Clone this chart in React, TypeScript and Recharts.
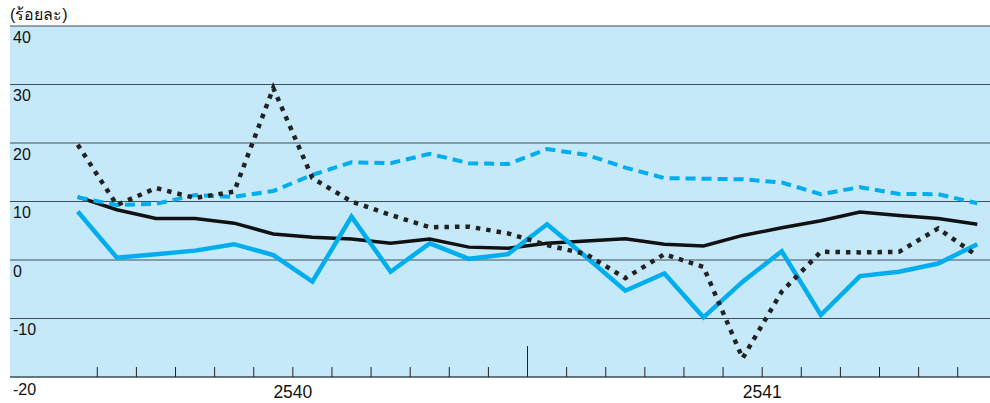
import { LineChart, Line, XAxis, YAxis, CartesianGrid } from 'recharts';

// 24 months: 2540 (12) + 2541 (12)
const months = Array.from({ length: 24 }, (_, i) => i);

const blackSolid = [10.8, 8.6, 7.1, 7.1, 6.3, 4.45, 3.9, 3.6, 2.85, 3.6, 2.2, 2.0, 2.85, 3.25, 3.65, 2.7, 2.4, 4.2, 5.5, 6.7, 8.2, 7.6, 7.1, 6.1];
const cyanSolid = [8.3, 0.4, 1.0, 1.6, 2.7, 0.85, -3.7, 7.4, -2.0, 2.85, 0.2, 1.0, 6.1, 0.5, -5.25, -2.3, -9.8, -3.7, 1.5, -9.4, -2.75, -2.0, -0.6, 2.7];
const cyanDashed = [10.7, 9.4, 9.6, 11.1, 10.8, 11.8, 14.55, 16.7, 16.55, 18.15, 16.55, 16.4, 18.95, 18.0, 15.8, 14.0, 13.9, 13.8, 13.25, 11.25, 12.45, 11.3, 11.25, 9.7];
const blackDotted = [19.7, 9.4, 12.3, 10.6, 11.7, 29.4, 14.0, 10.0, 7.7, 5.6, 5.7, 4.55, 2.55, 1.0, -3.1, 1.0, -1.2, -16.8, -5.4, 1.4, 1.3, 1.4, 5.4, 0.7];

const yTicks = [40, 30, 20, 10, 0, -10, -20];
const xTicks = Array.from({ length: 23 }, (_, i) => i + 1);
const yearLabels: Record<number, string> = { 6: '2540', 18: '2541' };

const data = months.map((m) => ({
  x: m + 0.5,
  a: blackSolid[m],
  b: cyanSolid[m],
  c: cyanDashed[m],
  d: blackDotted[m],
}));

const font = '"Liberation Sans", Arial, sans-serif';

function XTick(props: any) {
  const { x, y, payload } = props;
  const v = payload.value;
  const len = v === 12 ? 31 : 10;
  return (
    <g>
      <line x1={x} x2={x} y1={y} y2={y - len} stroke="#222" strokeWidth={1} />
      {yearLabels[v] && (
        <text x={x} y={y + 21} textAnchor="middle" fontSize={17.5} fontFamily={font} fill="#111">
          {yearLabels[v]}
        </text>
      )}
    </g>
  );
}

function YTick(props: any) {
  const { x, y, payload } = props;
  const off = payload.value === -20 ? 18 : 16.5;
  return (
    <text x={x + 3} y={y + off} textAnchor="start" fontSize={16} fontFamily={font} fill="#111">
      {payload.value}
    </text>
  );
}

export default function App() {
  return (
    <div style={{ position: 'absolute', left: 0, top: 0, width: 990, height: 403, background: '#fff' }}>
      <div style={{ position: 'absolute', left: 10, top: 2, fontSize: 16, fontFamily: font, color: '#111' }}>
        (ร้อยละ)
      </div>
      <LineChart width={990} height={403} data={data} margin={{ top: 26, right: 0, left: 0, bottom: 0 }}>
        <CartesianGrid vertical={false} fill="#c6e9f9" stroke="#3d4f5a" strokeWidth={1.2} />
        <XAxis
          type="number"
          dataKey="x"
          domain={[-1.232, 23.825]}
          allowDataOverflow
          ticks={xTicks}
          interval={0}
          tickSize={0}
          tickMargin={0}
          tickLine={false}
          axisLine={{ stroke: '#3d4f5a', strokeWidth: 1.2 }}
          tick={<XTick />}
          height={26}
        />
        <YAxis
          type="number"
          domain={[-20, 40]}
          ticks={yTicks}
          interval={0}
          width={10}
          tickSize={0}
          tickMargin={0}
          tickLine={false}
          axisLine={false}
          tick={<YTick />}
        />
        <Line type="linear" dataKey="a" stroke="#111" strokeWidth={3.5} dot={false} isAnimationActive={false} />
        <Line type="linear" dataKey="c" stroke="#00aeef" strokeWidth={4} strokeDasharray="10 6" dot={false} isAnimationActive={false} />
        <Line type="linear" dataKey="b" stroke="#00aeef" strokeWidth={4.5} dot={false} isAnimationActive={false} />
        <Line type="linear" dataKey="d" stroke="#222" strokeWidth={4.5} strokeDasharray="4.5 6" dot={false} isAnimationActive={false} />
      </LineChart>
    </div>
  );
}
